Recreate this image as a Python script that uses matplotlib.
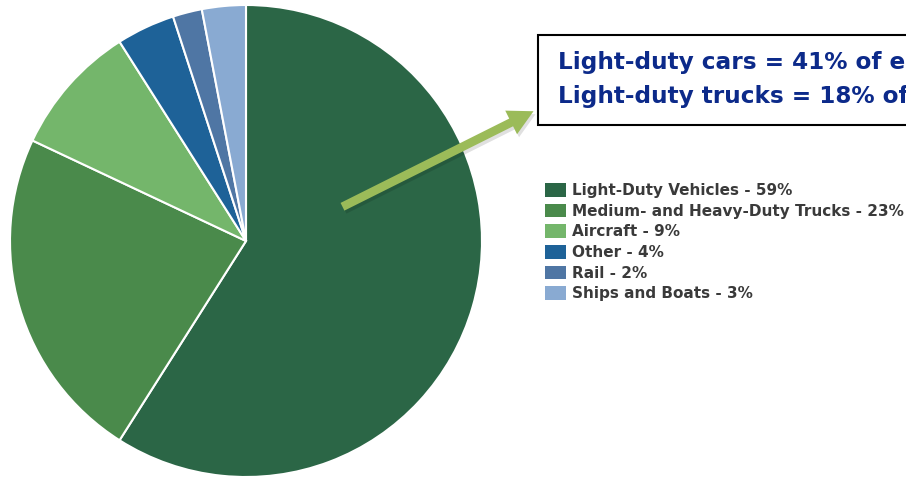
import matplotlib
matplotlib.use("Agg")
import matplotlib.pyplot as plt
from matplotlib.patches import Rectangle, FancyArrowPatch

categories = ["Light-Duty Vehicles", "Medium- and Heavy-Duty Trucks", "Aircraft",
              "Other", "Rail", "Ships and Boats"]
shares = [59, 23, 9, 4, 2, 3]
colors = ["#2b6646", "#4a8a4b", "#74b66b", "#1e6298", "#4f76a4", "#89aad2"]
callout_lines = ["Light-duty cars = 41% of emissions",
                 "Light-duty trucks = 18% of emissions"]

W, H = 906, 479
fig = plt.figure(figsize=(W / 100, H / 100), dpi=100)

# pie axes: center (246,241), radius 236 px
cx, cy, r = 246, 241, 236
ax = fig.add_axes([(cx - r) / W, (H - cy - r) / H, 2 * r / W, 2 * r / H])
wedges, _ = ax.pie(shares, colors=colors, startangle=90, counterclock=False,
                   radius=1.0, wedgeprops=dict(edgecolor="white", linewidth=1.5))
ax.set_xlim(-1, 1)
ax.set_ylim(-1, 1)
ax.set_aspect("equal")
ax.axis("off")

# legend
labels = [f"{c} - {v}%" for c, v in zip(categories, shares)]
leg = fig.legend(wedges, labels, loc="upper left",
                 bbox_to_anchor=(542 / W, 1 - 180 / H), frameon=False,
                 prop=dict(family="DejaVu Sans", size=10.95, weight="bold"),
                 handlelength=1.35, handleheight=1.0, handletextpad=0.42,
                 labelspacing=0.37, borderpad=0.2, borderaxespad=0)
for t in leg.get_texts():
    t.set_color("#3a3a3a")
for h in leg.legend_handles:
    h.set_edgecolor("none")

# callout box
box = Rectangle((538 / W, 1 - 125 / H), (W + 20 - 538) / W, 90 / H,
                transform=fig.transFigure, facecolor="white", edgecolor="black",
                linewidth=1.5, clip_on=False, zorder=3)
fig.add_artist(box)
for i, line in enumerate(callout_lines):
    fig.text(558 / W, 1 - (69.5 + 34 * i) / H, line, family="DejaVu Sans",
             weight="bold", size=16.7, color="#0c2a8a",
             va="baseline", ha="left", zorder=4)

# arrow with faint shadow
style = "simple,head_width=1.9,head_length=1.8,tail_width=0.62"
shadow = FancyArrowPatch((342 / W, 1 - 211 / H), (538 / W, 1 - 113 / H),
                         transform=fig.transFigure, arrowstyle=style,
                         mutation_scale=10, color="#000000", alpha=0.12,
                         linewidth=0, zorder=4)
fig.add_artist(shadow)
arrow = FancyArrowPatch((340 / W, 1 - 208 / H), (536 / W, 1 - 110 / H),
                        transform=fig.transFigure, arrowstyle=style,
                        mutation_scale=10, color="#9bbb59", linewidth=0, zorder=5)
fig.add_artist(arrow)

fig.savefig("out.png", dpi=100)
